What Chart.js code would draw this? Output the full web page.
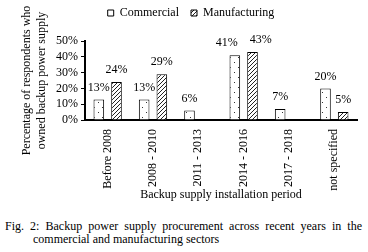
<!DOCTYPE html>
<html>
<head>
<meta charset="utf-8">
<script src="https://cdn.jsdelivr.net/npm/chart.js@4"></script>
<style>
  html, body { margin: 0; padding: 0; background: #fff; }
  #wrap { position: relative; width: 368px; height: 252px; overflow: hidden; font-family: "Liberation Serif", "Times New Roman", serif; }
  #box { position: absolute; left: 0; top: 0; width: 368px; height: 202px; }
  .cap { position: absolute; font-size: 12px; color: #000; white-space: nowrap; line-height: 13px; }
  #cap1 { left: 5px; top: 220px; width: 357px; text-align: justify; text-align-last: justify; white-space: normal; }
  #cap2 { left: 33px; top: 233px; }
</style>
</head>
<body>
<div id="wrap">
  <div id="box"><canvas id="c"></canvas></div>
  <div class="cap" id="cap1">Fig. 2: Backup power supply procurement across recent years in the</div>
  <div class="cap" id="cap2">commercial and manufacturing sectors</div>
</div>
<script>
const categories = ["Before 2008", "2008 - 2010", "2011 - 2013", "2014 - 2016", "2017 - 2018", "not specified"];
const commercial = [13, 13, 6, 41, 7, 20];
const manufacturing = [24, 29, null, 43, null, 5];
const yTicks = [0, 10, 20, 30, 40, 50];

function dotPattern() {
  const t = document.createElement('canvas');
  t.width = 8; t.height = 10;
  const g = t.getContext('2d');
  g.fillStyle = '#fff'; g.fillRect(0, 0, 8, 10);
  g.fillStyle = '#333';
  g.fillRect(2, 2, 1, 1);
  g.fillRect(6, 7, 1, 1);
  return g.createPattern(t, 'repeat');
}
function hatchPattern() {
  const t = document.createElement('canvas');
  t.width = 4; t.height = 4;
  const g = t.getContext('2d');
  g.fillStyle = '#fff'; g.fillRect(0, 0, 4, 4);
  g.strokeStyle = '#222'; g.lineWidth = 1;
  g.beginPath();
  g.moveTo(0, 4); g.lineTo(4, 0);
  g.moveTo(-1, 1); g.lineTo(1, -1);
  g.moveTo(3, 5); g.lineTo(5, 3);
  g.stroke();
  return g.createPattern(t, 'repeat');
}

const FONT = '12px "Liberation Serif", "Times New Roman", serif';
const valueLabels = {
  id: 'valueLabels',
  afterDatasetsDraw(chart) {
    const ctx = chart.ctx;
    ctx.save();
    ctx.font = FONT;
    ctx.fillStyle = '#000';
    ctx.textAlign = 'center';
    ctx.textBaseline = 'middle';
    const n = chart.data.labels.length;
    for (let i = 0; i < n; i++) {
      const items = [];
      chart.data.datasets.forEach((ds, di) => {
        const v = ds.data[i];
        if (v === null || v === undefined) return;
        const bar = chart.getDatasetMeta(di).data[i];
        const text = v + '%';
        items.push({ text, x: bar.x, y: bar.y - 12, w: ctx.measureText(text).width });
      });
      if (items.length === 2) {
        const [a, b] = items;
        if (Math.abs(a.y - b.y) < 12) {
          const need = a.w / 2 + b.w / 2 + 12 - (b.x - a.x);
          if (need > 0) { a.x -= need / 2; b.x += need / 2; }
        }
      }
      items.forEach(it => ctx.fillText(it.text, it.x, it.y));
    }
    ctx.restore();
  }
};

const legendShift = {
  id: 'legendShift',
  afterLayout(chart) {
    if (chart.legend) { chart.legend.top -= 12; chart.legend.bottom -= 12; }
  }
};

const serif = { family: '"Liberation Serif", "Times New Roman", serif', size: 12 };

new Chart(document.getElementById('c'), {
  type: 'bar',
  data: {
    labels: categories,
    datasets: [
      { label: 'Commercial', data: commercial, backgroundColor: dotPattern(), borderColor: '#000', borderWidth: 1, borderSkipped: 'bottom', categoryPercentage: 0.78, barPercentage: 0.6 },
      { label: 'Manufacturing', data: manufacturing, backgroundColor: hatchPattern(), borderColor: '#000', borderWidth: 1, borderSkipped: 'bottom', categoryPercentage: 0.78, barPercentage: 0.6 }
    ]
  },
  options: {
    responsive: true,
    maintainAspectRatio: false,
    animation: false,
    devicePixelRatio: 1,
    layout: { padding: { left: 20, right: 6, top: 0, bottom: 0 } },
    plugins: {
      legend: {
        position: 'top',
        labels: { font: serif, color: '#000', boxWidth: 6, boxHeight: 6, padding: 12 }
      },
      tooltip: { enabled: false }
    },
    scales: {
      x: {
        grid: { display: false },
        border: { display: true, color: '#000', width: 2 },
        ticks: { font: serif, color: '#000', minRotation: 90, maxRotation: 90, padding: 1, autoSkip: false },
        title: { display: true, text: 'Backup supply installation period', font: serif, color: '#000', padding: { top: 0, bottom: 0 } },
        afterFit(s) { s.height = 82; s.paddingRight = 11; s.paddingLeft = 0; }
      },
      y: {
        min: 0, max: 50,
        afterBuildTicks(s) { s.ticks = yTicks.map(v => ({ value: v })); },
        grid: { display: true, drawOnChartArea: false, color: '#000', tickLength: 4, lineWidth: 1 },
        border: { display: true, color: '#000', width: 2 },
        ticks: { font: serif, color: '#000', padding: 3, autoSkip: false, stepSize: 10, callback: v => v + '%' },
        title: { display: true, text: ['Percentage of respondents who', 'owned backup power supply'], font: serif, color: '#000', padding: 0 },
        afterFit(s) { s.width = 65; s.paddingTop = 41; }
      }
    }
  },
  plugins: [valueLabels, legendShift]
});
</script>
</body>
</html>
